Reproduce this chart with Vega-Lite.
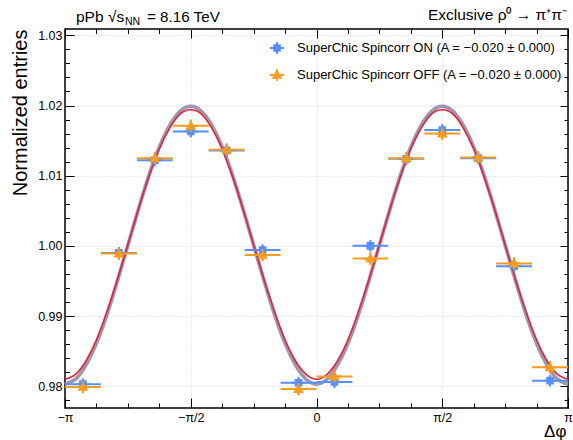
{
  "$schema": "https://vega.github.io/schema/vega-lite/v6.json",
  "width": 503,
  "height": 379,
  "autosize": "none",
  "padding": {"left": 65, "top": 29, "right": 5, "bottom": 32},
  "background": "white",
  "config": {
    "font": "Liberation Sans",
    "view": {"stroke": "black", "strokeWidth": 1.5}
  },
  "datasets": {
    "pts": [
      {"s": "ON", "phi": -2.9172, "v": 0.9803, "lo": 0.9796, "hi": 0.9810, "x0": -3.14159, "x1": -2.6928},
      {"s": "ON", "phi": -2.4684, "v": 0.9990, "lo": 0.9983, "hi": 0.9997, "x0": -2.6928, "x1": -2.2440},
      {"s": "ON", "phi": -2.0196, "v": 1.0122, "lo": 1.0115, "hi": 1.0129, "x0": -2.2440, "x1": -1.7952},
      {"s": "ON", "phi": -1.5708, "v": 1.0163, "lo": 1.0156, "hi": 1.0170, "x0": -1.7952, "x1": -1.3464},
      {"s": "ON", "phi": -1.1220, "v": 1.0136, "lo": 1.0129, "hi": 1.0143, "x0": -1.3464, "x1": -0.8976},
      {"s": "ON", "phi": -0.6732, "v": 0.9994, "lo": 0.9987, "hi": 1.0001, "x0": -0.8976, "x1": -0.4488},
      {"s": "ON", "phi": -0.2244, "v": 0.9805, "lo": 0.9798, "hi": 0.9812, "x0": -0.4488, "x1": 0},
      {"s": "ON", "phi": 0.2244, "v": 0.9806, "lo": 0.9799, "hi": 0.9813, "x0": 0, "x1": 0.4488},
      {"s": "ON", "phi": 0.6732, "v": 1.0000, "lo": 0.9993, "hi": 1.0007, "x0": 0.4488, "x1": 0.8976},
      {"s": "ON", "phi": 1.1220, "v": 1.0124, "lo": 1.0117, "hi": 1.0131, "x0": 0.8976, "x1": 1.3464},
      {"s": "ON", "phi": 1.5708, "v": 1.0165, "lo": 1.0158, "hi": 1.0172, "x0": 1.3464, "x1": 1.7952},
      {"s": "ON", "phi": 2.0196, "v": 1.0125, "lo": 1.0118, "hi": 1.0132, "x0": 1.7952, "x1": 2.2440},
      {"s": "ON", "phi": 2.4684, "v": 0.9971, "lo": 0.9964, "hi": 0.9978, "x0": 2.2440, "x1": 2.6928},
      {"s": "ON", "phi": 2.9172, "v": 0.9808, "lo": 0.9801, "hi": 0.9815, "x0": 2.6928, "x1": 3.14159},
      {"s": "OFF", "phi": -2.9172, "v": 0.9799, "lo": 0.9790, "hi": 0.9808, "x0": -3.14159, "x1": -2.6928},
      {"s": "OFF", "phi": -2.4684, "v": 0.9989, "lo": 0.9980, "hi": 0.9998, "x0": -2.6928, "x1": -2.2440},
      {"s": "OFF", "phi": -2.0196, "v": 1.0125, "lo": 1.0116, "hi": 1.0134, "x0": -2.2440, "x1": -1.7952},
      {"s": "OFF", "phi": -1.5708, "v": 1.0171, "lo": 1.0162, "hi": 1.0180, "x0": -1.7952, "x1": -1.3464},
      {"s": "OFF", "phi": -1.1220, "v": 1.0137, "lo": 1.0128, "hi": 1.0146, "x0": -1.3464, "x1": -0.8976},
      {"s": "OFF", "phi": -0.6732, "v": 0.9987, "lo": 0.9978, "hi": 0.9996, "x0": -0.8976, "x1": -0.4488},
      {"s": "OFF", "phi": -0.2244, "v": 0.9796, "lo": 0.9787, "hi": 0.9805, "x0": -0.4488, "x1": 0},
      {"s": "OFF", "phi": 0.2244, "v": 0.9814, "lo": 0.9805, "hi": 0.9823, "x0": 0, "x1": 0.4488},
      {"s": "OFF", "phi": 0.6732, "v": 0.9982, "lo": 0.9973, "hi": 0.9991, "x0": 0.4488, "x1": 0.8976},
      {"s": "OFF", "phi": 1.1220, "v": 1.0125, "lo": 1.0116, "hi": 1.0134, "x0": 0.8976, "x1": 1.3464},
      {"s": "OFF", "phi": 1.5708, "v": 1.0160, "lo": 1.0151, "hi": 1.0169, "x0": 1.3464, "x1": 1.7952},
      {"s": "OFF", "phi": 2.0196, "v": 1.0126, "lo": 1.0117, "hi": 1.0135, "x0": 1.7952, "x1": 2.2440},
      {"s": "OFF", "phi": 2.4684, "v": 0.9975, "lo": 0.9966, "hi": 0.9984, "x0": 2.2440, "x1": 2.6928},
      {"s": "OFF", "phi": 2.9172, "v": 0.9827, "lo": 0.9818, "hi": 0.9836, "x0": 2.6928, "x1": 3.14159}
    ],
    "fit": [
      {"phi": -3.14159, "a": 0.9803, "b": 0.9810},
      {"phi": -3.01069, "a": 0.9810, "b": 0.9817},
      {"phi": -2.87979, "a": 0.9830, "b": 0.9836},
      {"phi": -2.74889, "a": 0.9861, "b": 0.9866},
      {"phi": -2.61799, "a": 0.9902, "b": 0.9906},
      {"phi": -2.48709, "a": 0.9950, "b": 0.9952},
      {"phi": -2.35619, "a": 1.0001, "b": 1.0002},
      {"phi": -2.22529, "a": 1.0052, "b": 1.0052},
      {"phi": -2.09440, "a": 1.0100, "b": 1.0098},
      {"phi": -1.96350, "a": 1.0141, "b": 1.0138},
      {"phi": -1.83260, "a": 1.0172, "b": 1.0168},
      {"phi": -1.70170, "a": 1.0192, "b": 1.0188},
      {"phi": -1.57080, "a": 1.0199, "b": 1.0194},
      {"phi": -1.43990, "a": 1.0192, "b": 1.0188},
      {"phi": -1.30900, "a": 1.0172, "b": 1.0168},
      {"phi": -1.17810, "a": 1.0141, "b": 1.0138},
      {"phi": -1.04720, "a": 1.0100, "b": 1.0098},
      {"phi": -0.91630, "a": 1.0052, "b": 1.0052},
      {"phi": -0.78540, "a": 1.0001, "b": 1.0002},
      {"phi": -0.65450, "a": 0.9950, "b": 0.9952},
      {"phi": -0.52360, "a": 0.9902, "b": 0.9906},
      {"phi": -0.39270, "a": 0.9861, "b": 0.9866},
      {"phi": -0.26180, "a": 0.9830, "b": 0.9836},
      {"phi": -0.13090, "a": 0.9810, "b": 0.9817},
      {"phi": 0, "a": 0.9803, "b": 0.9810},
      {"phi": 0.13090, "a": 0.9810, "b": 0.9817},
      {"phi": 0.26180, "a": 0.9830, "b": 0.9836},
      {"phi": 0.39270, "a": 0.9861, "b": 0.9866},
      {"phi": 0.52360, "a": 0.9902, "b": 0.9906},
      {"phi": 0.65450, "a": 0.9950, "b": 0.9952},
      {"phi": 0.78540, "a": 1.0001, "b": 1.0002},
      {"phi": 0.91630, "a": 1.0052, "b": 1.0052},
      {"phi": 1.04720, "a": 1.0100, "b": 1.0098},
      {"phi": 1.17810, "a": 1.0141, "b": 1.0138},
      {"phi": 1.30900, "a": 1.0172, "b": 1.0168},
      {"phi": 1.43990, "a": 1.0192, "b": 1.0188},
      {"phi": 1.57080, "a": 1.0199, "b": 1.0194},
      {"phi": 1.70170, "a": 1.0192, "b": 1.0188},
      {"phi": 1.83260, "a": 1.0172, "b": 1.0168},
      {"phi": 1.96350, "a": 1.0141, "b": 1.0138},
      {"phi": 2.09440, "a": 1.0100, "b": 1.0098},
      {"phi": 2.22529, "a": 1.0052, "b": 1.0052},
      {"phi": 2.35619, "a": 1.0001, "b": 1.0002},
      {"phi": 2.48709, "a": 0.9950, "b": 0.9952},
      {"phi": 2.61799, "a": 0.9902, "b": 0.9906},
      {"phi": 2.74889, "a": 0.9861, "b": 0.9866},
      {"phi": 2.87979, "a": 0.9830, "b": 0.9836},
      {"phi": 3.01069, "a": 0.9810, "b": 0.9817},
      {"phi": 3.14159, "a": 0.9803, "b": 0.9810}
    ]
  },
  "layer": [
    {
      "data": {"name": "fit"},
      "mark": {"type": "line", "color": "#a08cc8", "strokeWidth": 3.6, "interpolate": "natural"},
      "encoding": {
        "x": {
          "field": "phi", "type": "quantitative",
          "scale": {"domain": [-3.14159265, 3.14159265], "nice": false, "zero": false},
          "axis": {
            "orient": "bottom",
            "values": [-3.14159265, -2.74889357, -2.35619449, -1.96349541, -1.57079633, -1.17809725, -0.78539816, -0.39269908, 0, 0.39269908, 0.78539816, 1.17809725, 1.57079633, 1.96349541, 2.35619449, 2.74889357, 3.14159265],
            "domain": false,
            "tickColor": "black",
            "tickWidth": 1,
            "tickSize": {"condition": {"test": "abs(datum.value/(PI/2) - round(datum.value/(PI/2))) < 0.001", "value": -10}, "value": -5},
            "labelExpr": "abs(datum.value + PI) < 0.001 ? '−π' : abs(datum.value + PI/2) < 0.001 ? '−π/2' : abs(datum.value) < 0.001 ? '0' : abs(datum.value - PI/2) < 0.001 ? 'π/2' : abs(datum.value - PI) < 0.001 ? 'π' : ''",
            "labelFontSize": 12.5,
            "labelColor": "black",
            "labelPadding": 13,
            "labelFlush": false,
            "labelOverlap": false,
            "labelBound": false,
            "grid": true,
            "gridColor": "#d4d4d4",
            "gridDash": [1, 2],
            "gridWidth": 1,
            "gridOpacity": {"condition": {"test": "abs(datum.value/(PI/2) - round(datum.value/(PI/2))) < 0.001 && abs(abs(datum.value) - PI) > 0.01", "value": 1}, "value": 0},
            "title": "Δφ",
            "titleFontSize": 17,
            "titleFontWeight": "normal",
            "titleColor": "black",
            "titleX": 501,
            "titleY": 28,
            "titleAlign": "right",
            "titleBaseline": "alphabetic"
          }
        },
        "y": {
          "field": "a", "type": "quantitative",
          "scale": {"domain": [0.9769, 1.0309], "nice": false, "zero": false},
          "axis": {
            "orient": "left",
            "values": [0.978, 0.98, 0.982, 0.984, 0.986, 0.988, 0.99, 0.992, 0.994, 0.996, 0.998, 1, 1.002, 1.004, 1.006, 1.008, 1.01, 1.012, 1.014, 1.016, 1.018, 1.02, 1.022, 1.024, 1.026, 1.028, 1.03],
            "domain": false,
            "tickColor": "black",
            "tickWidth": 1,
            "tickSize": {"condition": {"test": "abs(datum.value*100 - round(datum.value*100)) < 0.01", "value": -9}, "value": -4.5},
            "labelExpr": "abs(datum.value*100 - round(datum.value*100)) < 0.01 ? format(datum.value, '.2f') : ''",
            "labelFontSize": 12.5,
            "labelColor": "black",
            "labelPadding": 12,
            "labelFlush": false,
            "labelOverlap": false,
            "labelBound": false,
            "grid": true,
            "gridColor": "#d4d4d4",
            "gridDash": [1, 2],
            "gridWidth": 1,
            "gridOpacity": {"condition": {"test": "abs(datum.value*100 - round(datum.value*100)) < 0.01", "value": 1}, "value": 0},
            "title": "Normalized entries",
            "titleFontSize": 20,
            "titleFontWeight": "normal",
            "titleColor": "black",
            "titleAngle": 270,
            "titleX": -45,
            "titleY": 0,
            "titleAlign": "right",
            "titleBaseline": "middle"
          }
        }
      }
    },
    {
      "data": {"name": "fit"},
      "mark": {"type": "line", "color": "#9c9ca1", "strokeWidth": 2, "interpolate": "natural"},
      "encoding": {
        "x": {
          "field": "phi", "type": "quantitative",
          "scale": {"domain": [-3.14159265, 3.14159265], "nice": false, "zero": false},
          "axis": {
            "orient": "top",
            "values": [-3.14159265, -2.74889357, -2.35619449, -1.96349541, -1.57079633, -1.17809725, -0.78539816, -0.39269908, 0, 0.39269908, 0.78539816, 1.17809725, 1.57079633, 1.96349541, 2.35619449, 2.74889357, 3.14159265],
            "domain": false,
            "labels": false,
            "grid": false,
            "tickColor": "black",
            "tickWidth": 1,
            "tickSize": {"condition": {"test": "abs(datum.value/(PI/2) - round(datum.value/(PI/2))) < 0.001", "value": -9}, "value": -4.5},
            "title": null
          }
        },
        "y": {
          "field": "a", "type": "quantitative",
          "scale": {"domain": [0.9769, 1.0309], "nice": false, "zero": false},
          "axis": {
            "orient": "right",
            "values": [0.978, 0.98, 0.982, 0.984, 0.986, 0.988, 0.99, 0.992, 0.994, 0.996, 0.998, 1, 1.002, 1.004, 1.006, 1.008, 1.01, 1.012, 1.014, 1.016, 1.018, 1.02, 1.022, 1.024, 1.026, 1.028, 1.03],
            "domain": false,
            "labels": false,
            "grid": false,
            "tickColor": "black",
            "tickWidth": 1,
            "tickSize": {"condition": {"test": "abs(datum.value*100 - round(datum.value*100)) < 0.01", "value": -8}, "value": -4},
            "title": null
          }
        }
      }
    },
    {
      "data": {"name": "fit"},
      "mark": {"type": "line", "color": "#e42536", "strokeWidth": 1.6, "interpolate": "natural"},
      "encoding": {
        "x": {"field": "phi", "type": "quantitative", "axis": null},
        "y": {"field": "b", "type": "quantitative", "axis": null}
      }
    },
    {
      "data": {"name": "pts"},
      "transform": [{"filter": "datum.s == 'ON'"}],
      "mark": {"type": "rule", "strokeWidth": 2, "color": "#5790fc"},
      "encoding": {
        "x": {"field": "x0", "type": "quantitative", "axis": null},
        "x2": {"field": "x1"},
        "y": {"field": "v", "type": "quantitative", "axis": null}
      }
    },
    {
      "data": {"name": "pts"},
      "transform": [{"filter": "datum.s == 'ON'"}],
      "mark": {"type": "rule", "strokeWidth": 2, "color": "#5790fc"},
      "encoding": {
        "x": {"field": "phi", "type": "quantitative", "axis": null},
        "y": {"field": "lo", "type": "quantitative", "axis": null},
        "y2": {"field": "hi"}
      }
    },
    {
      "data": {"name": "pts"},
      "transform": [{"filter": "datum.s == 'OFF'"}],
      "mark": {"type": "rule", "strokeWidth": 2, "color": "#f89c20"},
      "encoding": {
        "x": {"field": "x0", "type": "quantitative", "axis": null},
        "x2": {"field": "x1"},
        "y": {"field": "v", "type": "quantitative", "axis": null}
      }
    },
    {
      "data": {"name": "pts"},
      "transform": [{"filter": "datum.s == 'OFF'"}],
      "mark": {"type": "rule", "strokeWidth": 2, "color": "#f89c20"},
      "encoding": {
        "x": {"field": "phi", "type": "quantitative", "axis": null},
        "y": {"field": "lo", "type": "quantitative", "axis": null},
        "y2": {"field": "hi"}
      }
    },
    {
      "data": {"name": "pts"},
      "mark": {"type": "point", "filled": false, "opacity": 1, "size": 196, "strokeWidth": 1.8},
      "encoding": {
        "x": {"field": "phi", "type": "quantitative", "axis": null},
        "y": {"field": "v", "type": "quantitative", "axis": null},
        "shape": {
          "field": "s", "type": "nominal",
          "scale": {"domain": ["ON", "OFF"], "range": ["M-0.42,-0.42H0.42V0.42H-0.42Z M-1,0H1 M0,-0.85V0.85", "M0,-0.55L0.55,0.42L-0.55,0.42Z M-1,0H1 M0,-0.85V0.85"]},
          "legend": {
            "orient": "none", "legendX": 204, "legendY": 11, "title": null, "padding": 0,
            "labelFont": "Liberation Sans", "labelFontSize": 13, "labelColor": "black", "labelLimit": 400,
            "labelOffset": 12, "rowPadding": 7, "symbolSize": 196, "symbolStrokeWidth": 1.8,
            "labelExpr": "datum.label == 'ON' ? 'SuperChic Spincorr ON (A = −0.020 ± 0.000)' : 'SuperChic Spincorr OFF (A = −0.020 ± 0.000)'"
          }
        },
        "fill": {
          "field": "s", "type": "nominal",
          "scale": {"domain": ["ON", "OFF"], "range": ["#5790fc", "#f89c20"]},
          "legend": {
            "orient": "none", "legendX": 204, "legendY": 11, "title": null, "padding": 0,
            "labelFont": "Liberation Sans", "labelFontSize": 13, "labelColor": "black", "labelLimit": 400,
            "labelOffset": 12, "rowPadding": 7, "symbolSize": 196, "symbolStrokeWidth": 1.8,
            "labelExpr": "datum.label == 'ON' ? 'SuperChic Spincorr ON (A = −0.020 ± 0.000)' : 'SuperChic Spincorr OFF (A = −0.020 ± 0.000)'"
          }
        },
        "stroke": {
          "field": "s", "type": "nominal",
          "scale": {"domain": ["ON", "OFF"], "range": ["#5790fc", "#f89c20"]},
          "legend": {
            "orient": "none", "legendX": 204, "legendY": 11, "title": null, "padding": 0,
            "labelFont": "Liberation Sans", "labelFontSize": 13, "labelColor": "black", "labelLimit": 400,
            "labelOffset": 12, "rowPadding": 7, "symbolSize": 196, "symbolStrokeWidth": 1.8,
            "labelExpr": "datum.label == 'ON' ? 'SuperChic Spincorr ON (A = −0.020 ± 0.000)' : 'SuperChic Spincorr OFF (A = −0.020 ± 0.000)'"
          }
        }
      }
    },
    {
      "data": {"values": [{}]},
      "mark": {"type": "text", "text": "pPb √s", "fontSize": 15.5, "align": "left", "baseline": "alphabetic", "color": "black"},
      "encoding": {
        "x": {"datum": -3.0043, "type": "quantitative", "axis": null},
        "y": {"datum": 1.0319, "type": "quantitative", "axis": null}
      }
    },
    {
      "data": {"values": [{}]},
      "mark": {"type": "text", "text": "NN", "fontSize": 10.5, "align": "left", "baseline": "alphabetic", "color": "black"},
      "encoding": {
        "x": {"datum": -2.3921, "type": "quantitative", "axis": null},
        "y": {"datum": 1.03147, "type": "quantitative", "axis": null}
      }
    },
    {
      "data": {"values": [{}]},
      "mark": {"type": "text", "text": "= 8.16 TeV", "fontSize": 15.2, "align": "left", "baseline": "alphabetic", "color": "black"},
      "encoding": {
        "x": {"datum": -2.1173, "type": "quantitative", "axis": null},
        "y": {"datum": 1.0319, "type": "quantitative", "axis": null}
      }
    },
    {
      "data": {"values": [{}]},
      "mark": {"type": "text", "text": "Exclusive ρ⁰ → π⁺π⁻", "fontSize": 15.5, "align": "right", "baseline": "alphabetic", "color": "black"},
      "encoding": {
        "x": {"datum": 3.1291, "type": "quantitative", "axis": null},
        "y": {"datum": 1.03225, "type": "quantitative", "axis": null}
      }
    }
  ],
  "resolve": {"axis": {"x": "independent", "y": "independent"}}
}
